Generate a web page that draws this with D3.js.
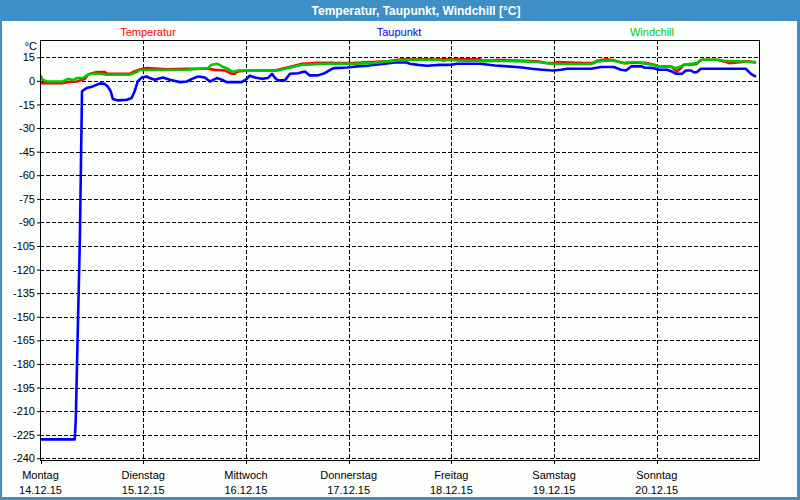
<!DOCTYPE html>
<html>
<head>
<meta charset="utf-8">
<script src="https://cdn.jsdelivr.net/npm/d3@7"></script>
<style>
  html, body { margin: 0; padding: 0; background: #fcfefc; }
  svg { display: block; }
  text { font-family: "Liberation Sans", Arial, sans-serif; }
</style>
</head>
<body>
<svg id="chart" width="800" height="500"></svg>
<script>
// ---- data (hours since Mo 14.12.15 00:00, °C) ----
const dayNames = ["Montag", "Dienstag", "Mittwoch", "Donnerstag", "Freitag", "Samstag", "Sonntag"];
const dayDates = ["14.12.15", "15.12.15", "16.12.15", "17.12.15", "18.12.15", "19.12.15", "20.12.15"];
const yTickValues = [15, 0, -15, -30, -45, -60, -75, -90, -105, -120, -135, -150, -165, -180, -195, -210, -225, -240];
const seriesNames = ["Temperatur", "Taupunkt", "Windchill"];

const temperatur = [
  [0,-1.4],[5.2,-1.4],[6.2,-0.8],[8.5,-0.4],[10.4,1.3],[11.1,3.9],[12.2,5.0],[13.4,5.6],[15.0,5.6],[15.5,4.5],
  [20.9,4.5],[21.6,5.6],[23.2,7.3],[24.8,8.1],[29.5,7.3],[34.2,7.7],[39.1,7.7],[40.7,7.0],[43.1,6.6],[44.7,4.5],
  [45.3,4.5],[46.1,6.0],[48.4,6.6],[54.8,6.6],[56.4,7.7],[58.7,9.2],[61.1,10.9],[64.8,11.5],[68.1,11.5],[68.3,11.3],
  [73.0,11.3],[77.4,12.0],[81.2,12.4],[84.4,13.8],[102.7,13.8],[103.1,13.0],[106.2,13.0],[106.6,13.4],[112.5,12.8],
  [116.2,12.4],[118.3,11.3],[120.2,11.3],[120.7,12.0],[127.0,11.3],[129.3,11.3],[130.0,12.8],[132.4,13.8],[134.0,13.0],
  [136.3,11.3],[139.8,11.7],[141.7,11.3],[143.3,10.2],[144.5,9.2],[147.5,8.8],[148.7,6.0],[149.6,8.1],[150.3,10.2],
  [153.2,10.6],[153.9,12.4],[154.6,13.4],[158.1,13.4],[159.7,12.4],[160.9,11.3],[165.1,12.4],[167.2,11.7]
];
const taupunkt = [
  [0,-228],[8.0,-228],[8.25,-215],[9.2,-100],[9.7,-6.6],[10.8,-4.5],[12.2,-3.5],[13.9,-1.6],[15.0,-1.9],[15.7,-3.5],
  [16.4,-6.6],[16.9,-11.5],[18.1,-12.4],[20.2,-12.0],[21.3,-10.9],[22.0,-6.6],[22.7,-0.4],[23.7,2.2],[24.8,2.8],
  [25.5,1.8],[26.7,0.7],[28.6,2.2],[30.2,0.7],[32.6,-0.8],[34.2,-0.4],[35.4,1.3],[36.8,2.8],[38.4,2.2],[39.6,-0.4],
  [41.2,1.8],[42.4,0.7],[43.5,-0.8],[47.0,-0.8],[48.2,1.3],[48.9,3.3],[50.1,2.2],[51.7,1.3],[53.1,1.8],[54.1,4.5],
  [54.8,1.8],[55.5,0.3],[57.1,0.3],[58.3,4.5],[60.1,4.9],[61.8,6.0],[62.9,3.5],[64.8,3.5],[66.4,4.9],[68.1,7.7],
  [68.8,8.1],[71.6,8.5],[73.9,9.2],[76.5,9.6],[77.7,10.2],[80.5,10.9],[82.8,11.7],[85.6,11.7],[86.3,10.9],[88.2,10.2],
  [90.3,9.6],[93.3,10.2],[95.7,10.2],[97.3,10.9],[102.7,10.9],[106.2,9.8],[109.2,9.2],[112.5,8.5],[114.8,7.7],
  [117.2,7.1],[119.7,6.6],[121.6,7.1],[123.0,7.7],[128.6,7.7],[131.0,8.8],[134.0,8.8],[135.6,7.1],[136.8,6.6],
  [138.0,9.2],[140.5,9.2],[141.0,8.5],[143.3,8.1],[144.5,7.1],[146.4,7.1],[147.5,6.0],[148.5,4.5],[149.9,4.5],
  [150.8,6.6],[152.0,6.6],[152.7,5.3],[153.4,5.6],[154.3,7.7],[164.8,7.7],[166.0,4.5],[166.7,3.3],[167.2,2.8]
];
const windchill = [
  [0,3.5],[0.5,0.7],[1.5,-0.4],[5.2,-0.4],[6.4,1.3],[7.6,0.5],[8.5,1.8],[9.9,1.8],[10.8,3.5],[11.5,4.5],[13.9,4.5],
  [15.5,3.9],[20.9,3.9],[22.5,5.6],[23.2,6.9],[34.2,7.1],[39.1,8.1],[40.0,10.2],[41.4,10.9],[42.4,9.2],[43.8,7.7],
  [44.7,6.0],[45.3,6.0],[46.1,6.6],[55.5,6.6],[57.1,7.7],[59.4,9.2],[61.1,10.2],[66.4,10.9],[73.0,10.9],[77.4,11.3],
  [81.2,12.4],[83.3,13.0],[84.4,13.4],[93.3,13.4],[94.0,12.8],[95.7,13.4],[98.0,12.8],[102.7,12.8],[103.1,12.4],
  [106.9,12.8],[112.5,12.4],[116.2,12.0],[119.5,10.9],[124.6,10.7],[128.6,10.7],[129.3,12.0],[132.4,13.0],[134.0,12.8],
  [136.3,11.3],[138.7,12.0],[143.3,10.2],[144.5,9.2],[147.3,9.2],[148.5,8.1],[149.6,9.2],[150.3,10.2],[153.4,11.3],
  [154.3,13.4],[158.1,13.4],[159.7,12.8],[166.7,12.0],[167.2,12.0]
];

// ---- layout ----
const W = 800, H = 500;
const plot = { left: 40, right: 760, top: 40, bottom: 460 };
const colors = { Temperatur: "#ff0000", Taupunkt: "#0000ff", Windchill: "#00c800" };

const svg = d3.select("#chart");

// window frame
svg.append("rect").attr("x", 0).attr("y", 0).attr("width", W).attr("height", H).attr("fill", "#3d8fc5");
svg.append("rect").attr("x", 2).attr("y", 21).attr("width", W - 5).attr("height", H - 24).attr("fill", "#fcfefc");

svg.append("text")
  .attr("x", 416).attr("y", 15)
  .attr("text-anchor", "middle")
  .attr("fill", "#ffffff")
  .attr("font-size", "12px").attr("font-weight", "bold")
  .text("Temperatur, Taupunkt, Windchill [°C]");

// legend
const legendX = [148, 399, 652];
seriesNames.forEach((n, i) => {
  svg.append("text")
    .attr("x", legendX[i]).attr("y", 36)
    .attr("text-anchor", "middle")
    .attr("font-size", "11px")
    .attr("fill", colors[n])
    .text(n);
});

const x = d3.scaleLinear().domain([0, 168]).range([40.5, 759.5]);
const y = d3.scaleLinear().domain([-241.1, 26]).range([plot.bottom, plot.top]);

// grid
const grid = svg.append("g").attr("stroke", "#000").attr("stroke-width", 1).attr("stroke-dasharray", "4,2");
grid.selectAll("line.h").data(yTickValues).join("line")
  .attr("x1", plot.left).attr("x2", plot.right)
  .attr("y1", d => Math.round(y(d)) + 0.5).attr("y2", d => Math.round(y(d)) + 0.5);
grid.selectAll("line.v").data(d3.range(1, 7)).join("line")
  .attr("y1", plot.top).attr("y2", plot.bottom)
  .attr("x1", d => Math.round(x(d * 24)) + 0.5).attr("x2", d => Math.round(x(d * 24)) + 0.5);

// clip
svg.append("clipPath").attr("id", "clip").append("rect")
  .attr("x", plot.left).attr("y", plot.top)
  .attr("width", plot.right - plot.left).attr("height", plot.bottom - plot.top);

const line = d3.line().x(d => x(d[0])).y(d => y(d[1]));
const series = [["Temperatur", temperatur], ["Taupunkt", taupunkt], ["Windchill", windchill]];
const lines = svg.append("g").attr("clip-path", "url(#clip)");
series.forEach(([n, data]) => {
  lines.append("path")
    .datum(data)
    .attr("d", line)
    .attr("fill", "none")
    .attr("stroke", colors[n])
    .attr("stroke-width", 2.6)
    .attr("stroke-linejoin", "round");
});

// plot box
svg.append("rect")
  .attr("x", plot.left + 0.5).attr("y", plot.top + 0.5)
  .attr("width", plot.right - plot.left - 1).attr("height", plot.bottom - plot.top)
  .attr("fill", "none").attr("stroke", "#000").attr("stroke-width", 1);
svg.append("line").attr("x1", plot.left).attr("x2", plot.right)
  .attr("y1", plot.bottom + 0.5).attr("y2", plot.bottom + 0.5).attr("stroke", "#000");

// y axis
const yAxis = d3.axisLeft(y).tickValues(yTickValues).tickSize(3).tickPadding(2).tickFormat(d => String(d));
const gy = svg.append("g").attr("transform", `translate(${plot.left},0)`).call(yAxis);
gy.select(".domain").remove();
gy.selectAll("text").attr("font-size", "11px").attr("font-family", "Liberation Sans, Arial, sans-serif").attr("fill", "#000");
gy.selectAll(".tick line").attr("stroke", "#000");
svg.append("text").attr("x", 37).attr("y", 50).attr("text-anchor", "end")
  .attr("font-size", "11px").text("°C");

// x axis
const days = d3.range(0, 7);
const gx = svg.append("g");
gx.selectAll("line").data(days).join("line")
  .attr("x1", d => Math.round(x(d * 24)) + 0.5).attr("x2", d => Math.round(x(d * 24)) + 0.5)
  .attr("y1", plot.bottom).attr("y2", plot.bottom + 4).attr("stroke", "#000");
gx.selectAll("text.day").data(days).join("text")
  .attr("class", "day")
  .attr("x", d => x(d * 24)).attr("y", 479)
  .attr("text-anchor", "middle").attr("font-size", "11px")
  .text(d => dayNames[d]);
gx.selectAll("text.date").data(days).join("text")
  .attr("class", "date")
  .attr("x", d => x(d * 24)).attr("y", 494)
  .attr("text-anchor", "middle").attr("font-size", "11px")
  .text(d => dayDates[d]);
</script>
</body>
</html>
